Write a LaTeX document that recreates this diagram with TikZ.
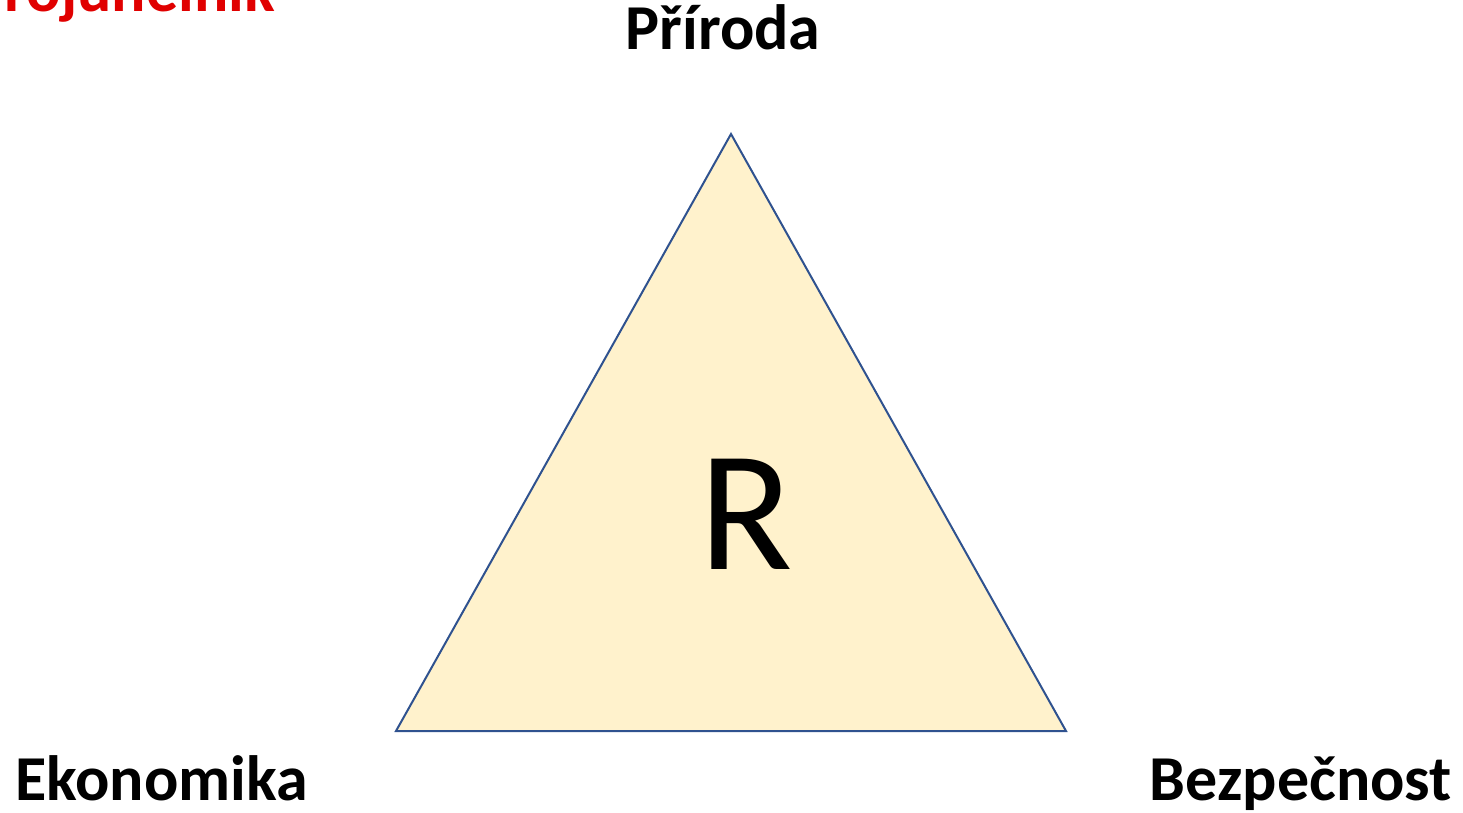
\documentclass[tikz,border=0pt]{standalone}
\usepackage{fontspec}
\setmainfont{Carlito}
\definecolor{trifill}{HTML}{FFF2CC}
\definecolor{tridraw}{HTML}{2F528F}
\definecolor{titlered}{HTML}{E00000}
\begin{document}
\begin{tikzpicture}[x=1pt,y=-1pt,
  corner/.style={font=\fontsize{64}{70}\selectfont\bfseries, inner sep=0pt}]
\useasboundingbox (0,0) rectangle (1463,813);
\begin{scope}
\clip (0,0) rectangle (1463,813);
\node[corner, text=titlered, anchor=base east] (title) at (275,12) {Trojúhelník};
\end{scope}
\coordinate (A) at (731,134);
\coordinate (B) at (396,731);
\coordinate (C) at (1066,731);
\draw[fill=trifill, draw=tridraw, line width=2pt, line join=miter] (A) -- (B) -- (C) -- cycle;
\node[font=\fontsize{172}{180}\selectfont, inner sep=0pt, anchor=base] (R) at (746,569) {R};
\node[corner, anchor=base] (P) at (723,50) {Příroda};
\node[corner, anchor=base west] (E) at (15,800) {Ekonomika};
\node[corner, anchor=base east] (Bz) at (1452,800) {Bezpečnost};
\end{tikzpicture}
\end{document}
